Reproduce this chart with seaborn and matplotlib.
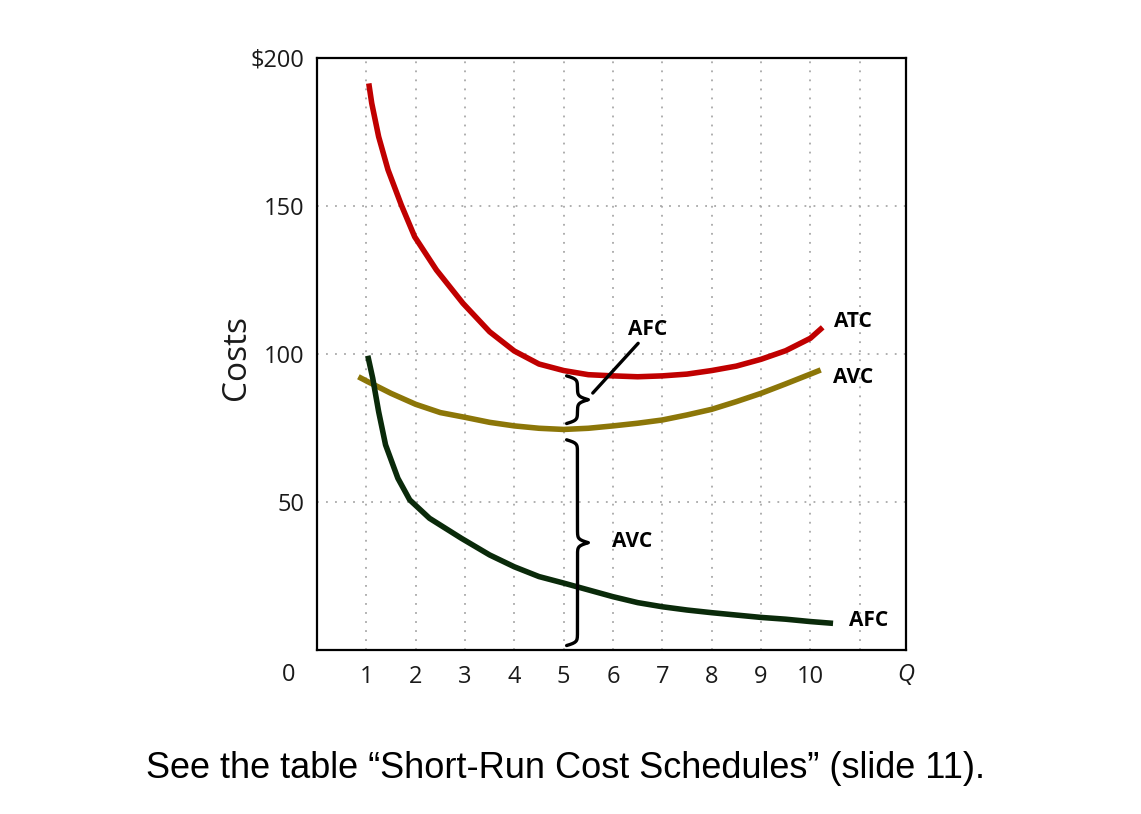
import numpy as np
import seaborn as sns
import matplotlib.pyplot as plt
import matplotlib.transforms as mtransforms

# Curves (Q, $ per unit)
atc_q = [1.05, 1.11, 1.25, 1.44, 1.71, 1.98, 2.42, 2.96, 3.5, 4, 4.5, 5, 5.5, 6, 6.5, 7, 7.5, 8, 8.5, 9, 9.5, 10, 10.25]
atc = [191.4, 184.7, 173.4, 162.2, 150.3, 139.6, 128.4, 117.1, 107.5, 101, 96.6, 94.4, 93, 92.6, 92.3, 92.6, 93.2, 94.4, 95.9, 98.2, 101.1, 105.3, 109]

avc_q = [0.84, 1, 1.5, 2, 2.5, 3, 3.5, 4, 4.5, 5, 5.5, 6, 6.5, 7, 7.5, 8, 8.5, 9, 9.5, 10, 10.21]
avc = [92.3, 90.9, 86.7, 83, 80.2, 78.6, 76.9, 75.7, 74.9, 74.5, 74.9, 75.7, 76.6, 77.7, 79.4, 81.3, 83.9, 86.7, 89.9, 93.2, 94.6]

afc_q = [1.03, 1.13, 1.25, 1.39, 1.64, 1.88, 2.28, 2.93, 3.5, 4, 4.5, 5, 5.5, 6, 6.5, 7, 7.5, 8, 8.5, 9, 9.5, 10, 10.46]
afc = [99.4, 91.8, 80.5, 69.3, 58, 50.7, 44.5, 37.7, 32.1, 28.1, 24.8, 22.6, 20.3, 18, 16, 14.6, 13.5, 12.6, 11.8, 11, 10.4, 9.6, 9.0]

x_ticks = [1, 2, 3, 4, 5, 6, 7, 8, 9, 10, 11]
x_labels = ["1", "2", "3", "4", "5", "6", "7", "8", "9", "10", ""]
y_ticks = [50, 100, 150, 200]
y_labels = ["50", "100", "150", "$200"]

brace_q = 5  # quantity where the ATC = AVC + AFC split is shown

sns.set_style("white")
plt.rcParams["font.family"] = ["Open Sans", "DejaVu Sans"]

fig = plt.figure(figsize=(11.41, 8.14), dpi=100)
ax = fig.add_axes([0.2778, 0.2015, 0.5163, 0.7273])

line_kw = dict(linewidth=4, solid_joinstyle="round", solid_capstyle="butt", ax=ax)
sns.lineplot(x=atc_q, y=atc, color="#c00000", **line_kw)
sns.lineplot(x=avc_q, y=avc, color="#8c7608", **line_kw)
sns.lineplot(x=afc_q, y=afc, color="#0a2a0a", **line_kw)

ax.set_xlim(0, 11.94)
ax.set_ylim(0, 200)
ax.set_xticks(x_ticks)
ax.set_xticklabels(x_labels)
ax.set_yticks(y_ticks)
ax.set_yticklabels(y_labels)
ax.tick_params(length=0, labelsize=17, colors="#1a1a1a")
ax.tick_params(axis="x", pad=11)
ax.tick_params(axis="y", pad=9)
ax.grid(True, linestyle=(0, (1, 4)), linewidth=1.3, color="#a8a8a8")
for s in ax.spines.values():
    s.set_color("black")
    s.set_linewidth(1.6)
ax.set_xlabel("")
ax.set_ylabel("")


def brace(ax, x0, y0, y1, w=0.44, beta=1.8):
    t = np.linspace(y0, y1, 201)
    half = t[:101]
    xs = 1 / (1 + np.exp(-beta * (half - half[0]))) + 1 / (1 + np.exp(-beta * (half - half[-1])))
    xs = np.concatenate([xs, xs[-2::-1]])
    ax.plot(x0 + w * xs, t, color="black", linewidth=2.4, solid_capstyle="round")


i = atc_q.index(brace_q)
j = avc_q.index(brace_q)
brace(ax, 4.84, avc[j] + 2, atc[i] - 1.8)
brace(ax, 4.84, 1.5, avc[j] - 3.5)
ax.plot([5.59, 6.51], [86.8, 103.6], color="black", linewidth=2.4)

bold = dict(fontsize=15, fontweight="bold", color="black", ha="center", va="center")
ax.text(6.71, 108.3, "AFC", **bold)
ax.text(6.38, 36.8, "AVC", **bold)
ax.text(10.86, 110.8, "ATC", **bold)
ax.text(10.86, 91.9, "AVC", **bold)
ax.text(11.19, 9.8, "AFC", **bold)

trans = mtransforms.blended_transform_factory(ax.transData, ax.transAxes)
ax.text(-0.57, -0.042, "0", transform=trans, fontsize=17, color="#1a1a1a", ha="center", va="center")
ax.text(11.94, -0.042, "Q", transform=trans, fontsize=17, style="italic", color="#1a1a1a",
        ha="center", va="center")

fig.text(0.2077, 0.5614, "Costs", rotation=90, fontsize=24, ha="center", va="center", color="#1a1a1a")
fig.text(0.4952, 0.0553, "See the table \u201cShort-Run Cost Schedules\u201d (slide 11).",
         fontsize=26, family="Liberation Sans", ha="center", va="center", color="black")

fig.savefig("out.png", dpi=100)
